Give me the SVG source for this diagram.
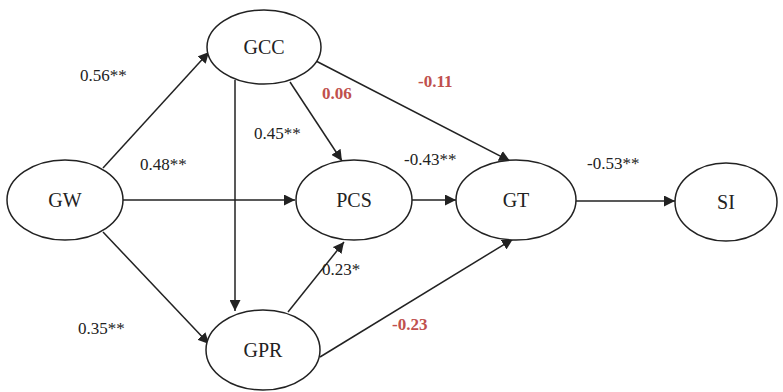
<svg xmlns="http://www.w3.org/2000/svg" width="783" height="392" viewBox="0 0 783 392">
<defs>
<marker id="ah" viewBox="0 0 10 10" refX="10" refY="5" markerWidth="11" markerHeight="11" markerUnits="userSpaceOnUse" orient="auto">
<path d="M0,0 L10,5 L0,10 z" fill="#222"/>
</marker>
</defs>
<rect width="783" height="392" fill="#fff"/>
<g id="connectors" stroke="#222" stroke-width="1.5" marker-end="url(#ah)">
<line x1="103" y1="168" x2="209" y2="52"/>
<line x1="123" y1="200" x2="295" y2="200"/>
<line x1="103" y1="232" x2="209" y2="344"/>
<line x1="235" y1="80" x2="235" y2="311"/>
<line x1="290" y1="82" x2="342" y2="161"/>
<line x1="316" y1="61" x2="510" y2="161"/>
<line x1="412" y1="200" x2="456" y2="200"/>
<line x1="288" y1="312" x2="344" y2="242"/>
<line x1="320" y1="357" x2="513" y2="239"/>
<line x1="576" y1="201" x2="675" y2="201"/>
</g>
<g id="GCC"><ellipse cx="264" cy="47" rx="57" ry="37" fill="#fff" stroke="#222" stroke-width="1.5"/><text x="264" y="54" style="font-family:'Times New Roman','Liberation Serif',Tinos,serif;font-size:20px" fill="#222" text-anchor="middle">GCC</text></g>
<g id="GW"><ellipse cx="65" cy="200" rx="58" ry="40" fill="#fff" stroke="#222" stroke-width="1.5"/><text x="65" y="207" style="font-family:'Times New Roman','Liberation Serif',Tinos,serif;font-size:20px" fill="#222" text-anchor="middle">GW</text></g>
<g id="PCS"><ellipse cx="354" cy="200" rx="58" ry="40" fill="#fff" stroke="#222" stroke-width="1.5"/><text x="354" y="207" style="font-family:'Times New Roman','Liberation Serif',Tinos,serif;font-size:20px" fill="#222" text-anchor="middle">PCS</text></g>
<g id="GT"><ellipse cx="516" cy="200" rx="60" ry="40" fill="#fff" stroke="#222" stroke-width="1.5"/><text x="516" y="207" style="font-family:'Times New Roman','Liberation Serif',Tinos,serif;font-size:20px" fill="#222" text-anchor="middle">GT</text></g>
<g id="SI"><ellipse cx="726" cy="202" rx="51" ry="39" fill="#fff" stroke="#222" stroke-width="1.5"/><text x="726" y="209" style="font-family:'Times New Roman','Liberation Serif',Tinos,serif;font-size:20px" fill="#222" text-anchor="middle">SI</text></g>
<g id="GPR"><ellipse cx="263" cy="350" rx="57" ry="40" fill="#fff" stroke="#222" stroke-width="1.5"/><text x="263" y="357" style="font-family:'Times New Roman','Liberation Serif',Tinos,serif;font-size:20px" fill="#222" text-anchor="middle">GPR</text></g>
<g id="labels" fill="#222" style="font-family:'Times New Roman','Liberation Serif',Tinos,serif;font-size:17px">
<text x="80" y="81">0.56**</text>
<text x="140" y="170">0.48**</text>
<text x="78" y="334">0.35**</text>
<text x="254" y="139">0.45**</text>
<text x="322" y="99" font-weight="bold" fill="#c0504d">0.06</text>
<text x="418" y="87" font-weight="bold" fill="#c0504d">-0.11</text>
<text x="404" y="165">-0.43**</text>
<text x="587" y="169">-0.53**</text>
<text x="322" y="275">0.23*</text>
<text x="392" y="330" font-weight="bold" fill="#c0504d">-0.23</text>
</g>
</svg>
